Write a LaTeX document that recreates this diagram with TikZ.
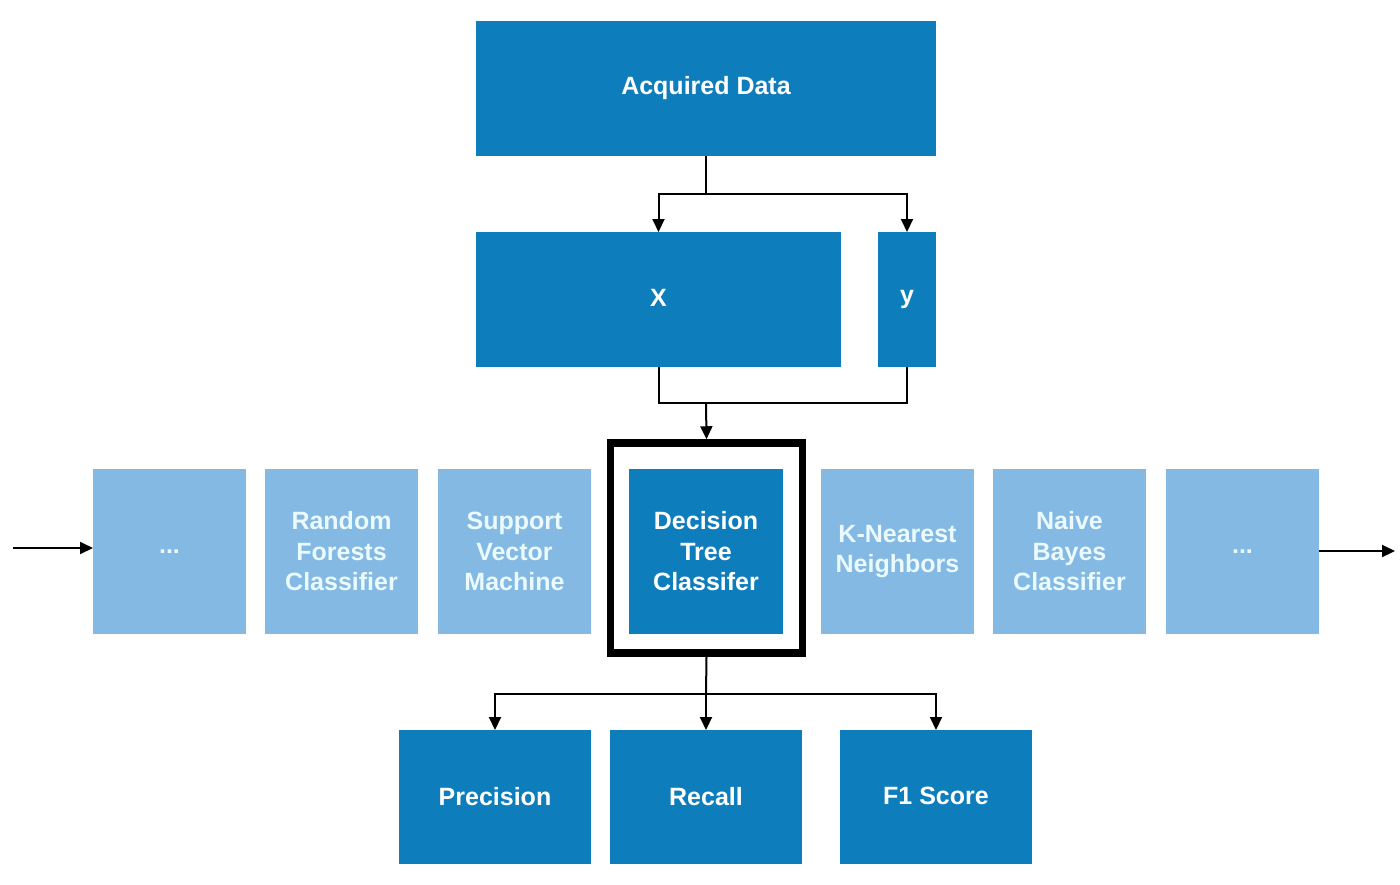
\documentclass[tikz,border=0pt]{standalone}
\usepackage{fontspec}
\setmainfont{Liberation Sans}
\usetikzlibrary{arrows.meta}
\definecolor{dblue}{RGB}{14,125,187}
\definecolor{lblue}{RGB}{132,185,227}
\definecolor{ltext}{RGB}{234,250,255}
\begin{document}
\begin{tikzpicture}[x=1pt,y=-1pt,
  base/.style={inner sep=0pt, outer sep=0pt, align=center,
    font=\fontsize{25}{30.5}\selectfont\bfseries},
  darkbox/.style={base, fill=dblue, text=white},
  lightbox/.style={base, fill=lblue, text=ltext, minimum width=153pt, minimum height=165pt},
  conn/.style={line width=2pt, draw=black},
  arr/.style={conn, -{Triangle[length=13pt,width=12pt]}}]
\useasboundingbox (0,0) rectangle (1400,884);
% top
\node[darkbox, minimum width=460pt, minimum height=135pt] (acq) at (706,88.5) {\raisebox{2pt}{Acquired Data}};
\node[darkbox, minimum width=365pt, minimum height=135pt] (X) at (658.5,299.5) {\raisebox{3pt}{X}};
\node[darkbox, minimum width=58pt, minimum height=135pt] (yb) at (907,299.5) {y};
% classifier row
\node[lightbox] (d1) at (169.5,551.5) {...};
\node[lightbox] (rf) at (341.5,551.5) {Random\\Forests\\Classifier};
\node[lightbox] (svm) at (514.5,551.5) {Support\\Vector\\Machine};
\node[darkbox, minimum width=154pt, minimum height=165pt] (dt) at (706,551.5) {Decision\\Tree\\Classifer};
\node[lightbox] (knn) at (897.5,551.5) {K-Nearest\\Neighbors};
\node[lightbox] (nb) at (1069.5,551.5) {Naive\\Bayes\\Classifier};
\node[lightbox] (d2) at (1242.5,551.5) {...};
\node[draw=black, line width=7.5pt, minimum width=192pt, minimum height=210pt, inner sep=0pt] (frame) at (706.5,548) {};
% metrics
\node[darkbox, minimum width=192pt, minimum height=134pt] (prec) at (495,797) {\raisebox{2pt}{Precision}};
\node[darkbox, minimum width=192pt, minimum height=134pt] (rec) at (706,797) {\raisebox{2pt}{Recall}};
\node[darkbox, minimum width=192pt, minimum height=134pt] (f1) at (936,797) {\raisebox{2pt}{F1 Score}};
% coordinates
\coordinate (s1) at (706,194);
\coordinate (m) at (706,403);
\coordinate (s2) at (706,694);
\coordinate (lin) at (13,548);
\coordinate (rout) at (1395,551);
% connectors
\draw[conn] (acq.south) -- (s1);
\draw[arr] (s1) -| (X.north);
\draw[arr] (s1) -| (yb.north);
\draw[conn] (X.south) -- (X.south |- m) -- (yb.south |- m) -- (yb.south);
\draw[arr] (m) -- (frame.north);
\draw[conn] (frame.south) -- (s2);
\draw[arr] (s2) -| (prec.north);
\draw[arr] (s2) -- (rec.north);
\draw[arr] (s2) -| (f1.north);
\draw[arr] (lin) -- (lin -| d1.west);
\draw[arr] (rout -| d2.east) -- (rout);
\end{tikzpicture}
\end{document}
